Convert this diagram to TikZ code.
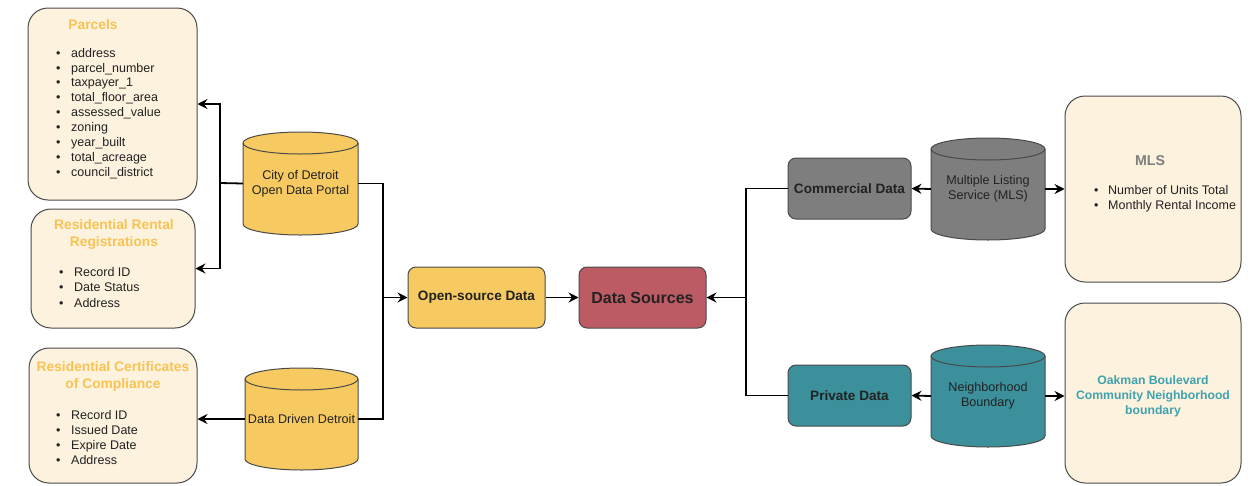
\documentclass[tikz,border=0pt]{standalone}
\usepackage{fontspec}
\setmainfont{Liberation Sans}
\usetikzlibrary{arrows.meta}
\definecolor{cream}{HTML}{FDF2DE}
\definecolor{edge}{HTML}{4A4A4A}
\definecolor{ttlorange}{HTML}{F8C353}
\definecolor{yel}{HTML}{F6CA60}
\definecolor{rose}{HTML}{BC5B64}
\definecolor{gry}{HTML}{7E7E7E}
\definecolor{teal}{HTML}{3C909B}
\definecolor{tealtxt}{HTML}{3FA3AE}
\definecolor{txt}{HTML}{222222}
\newcommand\bl{\makebox[15pt][l]{\textbullet}}
\newcommand\mycyl[7]{%
  \path[draw=edge, line width=1pt, fill=#6] (#2,{-#3-11}) -- (#2,{-#5+11})
    arc[start angle=180,end angle=360,x radius={(#4-#2)/2},y radius=11]
    -- (#4,{-#3-11})
    arc[start angle=0,end angle=180,x radius={(#4-#2)/2},y radius=11] -- cycle;
  \draw[draw=edge, line width=1pt] (#2,{-#3-11})
    arc[start angle=180,end angle=360,x radius={(#4-#2)/2},y radius=11];
  \node[cyltext, minimum width={#4pt-#2pt}, minimum height={#5pt-#3pt}] (#1)
    at ({(#2+#4)/2},{-(#3+#5)/2}) {#7};
}
\begin{document}
\begin{tikzpicture}[x=1pt,y=1pt,
  bigbox/.style={draw=edge, fill=cream, rounded corners=20pt, line width=1pt, inner sep=0pt},
  smallbox/.style={draw=edge, rounded corners=8pt, line width=1pt, inner sep=0pt, text=txt,
    font=\bfseries\fontsize{13.6}{16}\selectfont},
  cyltext/.style={inner sep=0pt, align=center, text=txt, font=\fontsize{12.6}{15}\selectfont},
  ttl/.style={inner sep=0pt, align=center, text=ttlorange, font=\bfseries\fontsize{13.8}{17}\selectfont},
  lst/.style={inner sep=0pt, align=left, anchor=west, text=txt, font=\fontsize{12.5}{14.9}\selectfont},
  arr/.style={-{Stealth[length=10pt,width=10pt,inset=3.5pt]}, line width=1.8pt},
  conn/.style={line width=1.8pt}]
\useasboundingbox[fill=white] (0,0) rectangle (1258,-485);

% left boxes
\node[bigbox, minimum width=169pt, minimum height=192pt] (parcels) at (112.5,-104) {};
\node[ttl] (ptitle) at (93,-25) {Parcels};
\node[lst] (plist) at (56,-113.5) {\bl address\\ \bl parcel\_number\\ \bl taxpayer\_1\\ \bl total\_floor\_area\\ \bl assessed\_value\\ \bl zoning\\ \bl year\_built\\ \bl total\_acreage\\ \bl council\_district};

\node[bigbox, minimum width=164pt, minimum height=119pt] (rental) at (113,-268.5) {};
\node[ttl] (rtitle) at (114,-234.5) {Residential Rental\\ Registrations};
\node[lst, font=\fontsize{12.5}{15.5}\selectfont] (rlist) at (59,-287.5) {\bl Record ID\\ \bl Date Status\\ \bl Address};

\node[bigbox, minimum width=168pt, minimum height=135pt] (cert) at (113,-415.5) {};
\node[ttl] (ctitle) at (113,-376.5) {Residential Certificates\\ of Compliance};
\node[lst] (clist) at (56,-437.5) {\bl Record ID\\ \bl Issued Date\\ \bl Expire Date\\ \bl Address};

% cylinders
\mycyl{city}{243}{132}{358}{235}{yel}{City of Detroit\\ Open Data Portal}
\mycyl{ddd}{245}{368}{358}{470}{yel}{Data Driven Detroit}
\mycyl{mls}{931}{138}{1045}{240}{gry}{Multiple Listing\\ Service (MLS)}
\mycyl{neigh}{931}{345}{1045}{447}{teal}{Neighborhood\\ Boundary}

% middle boxes
\node[smallbox, fill=yel, minimum width=137pt, minimum height=61pt] (opensrc) at (476.5,-297.5) {Open-source Data};
\node[smallbox, fill=rose, minimum width=127pt, minimum height=61pt, font=\bfseries\fontsize{16}{18}\selectfont] (datasrc) at (642.5,-297.5) {Data Sources};
\node[smallbox, fill=gry, minimum width=123pt, minimum height=61pt] (commercial) at (849.5,-188.5) {Commercial Data};
\node[smallbox, fill=teal, minimum width=123pt, minimum height=61pt] (private) at (849.5,-395.5) {Private Data};

% right boxes
\node[bigbox, minimum width=176pt, minimum height=186pt] (mlsbox) at (1153,-189) {};
\node[ttl, text=gry, font=\bfseries\fontsize{14.2}{17}\selectfont] (mtitle) at (1150,-161) {MLS};
\node[lst] (mlist) at (1094,-198.5) {\makebox[14pt][l]{\textbullet}Number of Units Total\\ \makebox[14pt][l]{\textbullet}Monthly Rental Income};
\node[bigbox, minimum width=176pt, minimum height=180pt] (oakman) at (1153,-393) {};
\node[ttl, text=tealtxt, font=\bfseries\fontsize{12.2}{15}\selectfont] (otitle) at (1153,-396) {Oakman Boulevard\\ Community Neighborhood\\ boundary};

% junctions
\coordinate (jL) at (220,-183);
\coordinate (jR) at (383,-419);
\coordinate (jB) at (746,-395.5);

% connectors
\draw[arr] (city.west) -- (jL) |- (parcels.east);
\draw[arr] (jL) |- (rental.east);
\draw[conn] (city.east) -| (jR) -- (ddd.east);
\draw[arr] (opensrc.west -| jR) -- (opensrc.west);
\draw[arr] (ddd.west) -- (ddd.west -| cert.east);
\draw[arr] (opensrc.east) -- (datasrc.west);
\draw[conn] (commercial.west) -| (jB) -- (private.west);
\draw[arr] (datasrc.east -| jB) -- (datasrc.east);
\draw[arr] (mls.west) -- (commercial.east);
\draw[arr] (mls.east) -- (mlsbox.west);
\draw[arr] (neigh.west) -- (private.east);
\draw[arr] (neigh.east) -- (neigh.east -| oakman.west);
\end{tikzpicture}
\end{document}
